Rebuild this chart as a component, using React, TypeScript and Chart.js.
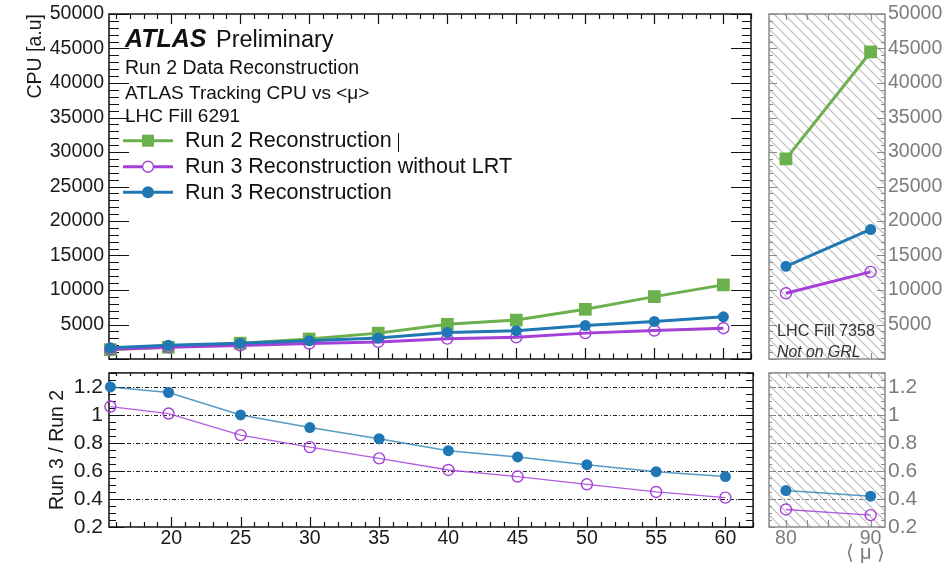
import React, { useEffect, useRef } from 'react';
import { Chart, registerables } from 'chart.js';

Chart.register(...registerables);

const FONT = '"Liberation Sans", Arial, Helvetica, sans-serif';

// ---------------- data ----------------
const mu = [15.6, 19.8, 25, 30, 35, 40, 45, 50, 55, 60];
const run2Cpu = [1350, 1700, 2300, 2900, 3750, 5030, 5640, 7200, 9040, 10740];
const run3CpuNoLrt = [1430, 1720, 1970, 2240, 2480, 2950, 3140, 3750, 4130, 4460];
const run3Cpu = [1620, 1980, 2300, 2660, 3060, 3850, 4080, 4840, 5450, 6120];
const ratioRun3 = [1.2, 1.16, 1.0, 0.91, 0.83, 0.745, 0.7, 0.645, 0.595, 0.56];
const ratioRun3NoLrt = [1.06, 1.01, 0.856, 0.77, 0.69, 0.607, 0.56, 0.505, 0.45, 0.41];

const muHigh = [80, 90];
const run2CpuHigh = [29000, 44500];
const run3CpuNoLrtHigh = [9520, 12630];
const run3CpuHigh = [13430, 18770];
const ratioRun3High = [0.46, 0.42];
const ratioRun3NoLrtHigh = [0.325, 0.285];

const cpuTicks = [5000, 10000, 15000, 20000, 25000, 30000, 35000, 40000, 45000, 50000];
const ratioTicks = [0.2, 0.4, 0.6, 0.8, 1, 1.2];
const ratioGrid = [0.4, 0.6, 0.8, 1, 1.2];
const muTicks = [20, 25, 30, 35, 40, 45, 50, 55, 60];
const muHighTicks = [80, 90];

const GREEN = '#6ab04c';
const PURPLE = '#a43fd8';
const BLUE = '#1f77b4';
const GREY_TXT = '#7c7c7c';
const GREY_FRAME = '#8a8a8a';

// ---------------- helpers ----------------
function range(a: number, b: number, step: number) {
  const out: number[] = [];
  for (let i = 0; a + i * step <= b + 1e-9; i++) out.push(+(a + i * step).toFixed(6));
  return out;
}

function pts(xs: number[], ys: number[]) {
  return xs.map((x, i) => ({ x, y: ys[i] }));
}

function greenSet(xs: number[], ys: number[], lw: number) {
  return {
    label: 'Run 2 Reconstruction',
    data: pts(xs, ys),
    borderColor: GREEN,
    backgroundColor: GREEN,
    borderWidth: lw,
    pointStyle: 'rect',
    pointRadius: 9,
    pointBorderWidth: 0,
    pointBackgroundColor: GREEN,
    clip: false,
    order: 3,
  };
}

function purpleSet(xs: number[], ys: number[], lw: number, lineColor: string) {
  return {
    label: 'Run 3 Reconstruction without LRT',
    data: pts(xs, ys),
    borderColor: lineColor,
    backgroundColor: 'rgba(255,255,255,0)',
    borderWidth: lw,
    pointStyle: 'circle',
    pointRadius: 5.5,
    pointBorderWidth: 1.4,
    pointBorderColor: PURPLE,
    pointBackgroundColor: 'rgba(255,255,255,0)',
    clip: false,
    order: 2,
  };
}

function blueSet(xs: number[], ys: number[], lw: number, lineColor: string) {
  return {
    label: 'Run 3 Reconstruction',
    data: pts(xs, ys),
    borderColor: lineColor,
    backgroundColor: BLUE,
    borderWidth: lw,
    pointStyle: 'circle',
    pointRadius: 5.5,
    pointBorderWidth: 0,
    pointBackgroundColor: BLUE,
    clip: false,
    order: 1,
  };
}

let hatchCanvas: HTMLCanvasElement | null = null;
function hatchPattern(ctx: CanvasRenderingContext2D) {
  if (!hatchCanvas) {
    hatchCanvas = document.createElement('canvas');
    hatchCanvas.width = 10;
    hatchCanvas.height = 10;
    const c = hatchCanvas.getContext('2d')!;
    c.strokeStyle = '#bdbdbd';
    c.lineWidth = 1.2;
    c.beginPath();
    c.moveTo(-1, -1);
    c.lineTo(11, 11);
    c.moveTo(-1, 9);
    c.lineTo(1, 11);
    c.moveTo(9, -1);
    c.lineTo(11, 1);
    c.stroke();
  }
  return ctx.createPattern(hatchCanvas, 'repeat')!;
}

type Side = [number, number];
interface FrameCfg {
  color: string;
  lineWidth: number;
  xMajor: number[];
  xMinor: number[];
  yMajor: number[];
  yMinor: number[];
  top: Side;
  bottom: Side;
  left: Side;
  right: Side;
  hatch?: boolean;
  grid?: { values: number[]; color: string; dash: number[] };
  draw?: (ctx: CanvasRenderingContext2D, chart: any) => void;
}

function framePlugin(cfg: FrameCfg) {
  return {
    id: 'rootFrame',
    beforeDatasetsDraw(chart: any) {
      const { ctx, chartArea: a, scales } = chart;
      const xs = scales.x;
      const ys = scales.y;
      ctx.save();
      if (cfg.hatch) {
        ctx.fillStyle = hatchPattern(ctx);
        ctx.fillRect(a.left, a.top, a.right - a.left, a.bottom - a.top);
      }
      if (cfg.grid) {
        ctx.strokeStyle = cfg.grid.color;
        ctx.lineWidth = 1;
        ctx.setLineDash(cfg.grid.dash);
        for (const v of cfg.grid.values) {
          const y = Math.round(ys.getPixelForValue(v)) + 0.5;
          ctx.beginPath();
          ctx.moveTo(a.left, y);
          ctx.lineTo(a.right, y);
          ctx.stroke();
        }
        ctx.setLineDash([]);
      }
      // ticks
      ctx.strokeStyle = cfg.color;
      ctx.lineWidth = 1.2;
      ctx.beginPath();
      const xTick = (v: number, major: boolean) => {
        const x = Math.round(xs.getPixelForValue(v)) + 0.5;
        if (x < a.left - 0.5 || x > a.right + 0.5) return;
        const lb = major ? cfg.bottom[0] : cfg.bottom[1];
        const lt = major ? cfg.top[0] : cfg.top[1];
        if (lb > 0) {
          ctx.moveTo(x, a.bottom);
          ctx.lineTo(x, a.bottom - lb);
        }
        if (lt > 0) {
          ctx.moveTo(x, a.top);
          ctx.lineTo(x, a.top + lt);
        }
      };
      const yTick = (v: number, major: boolean) => {
        const y = Math.round(ys.getPixelForValue(v)) + 0.5;
        if (y < a.top - 0.5 || y > a.bottom + 0.5) return;
        const ll = major ? cfg.left[0] : cfg.left[1];
        const lr = major ? cfg.right[0] : cfg.right[1];
        if (ll > 0) {
          ctx.moveTo(a.left, y);
          ctx.lineTo(a.left + ll, y);
        }
        if (lr > 0) {
          ctx.moveTo(a.right, y);
          ctx.lineTo(a.right - lr, y);
        }
      };
      cfg.xMinor.forEach((v) => xTick(v, false));
      cfg.xMajor.forEach((v) => xTick(v, true));
      cfg.yMinor.forEach((v) => yTick(v, false));
      cfg.yMajor.forEach((v) => yTick(v, true));
      ctx.stroke();
      // frame
      ctx.lineWidth = cfg.lineWidth;
      ctx.strokeRect(a.left, a.top, a.right - a.left, a.bottom - a.top);
      ctx.restore();
    },
    afterDatasetsDraw(chart: any) {
      if (cfg.draw) {
        chart.ctx.save();
        cfg.draw(chart.ctx, chart);
        chart.ctx.restore();
      }
    },
  };
}

const noGrid = { display: false, drawTicks: false };
const noBorder = { display: false };

function fixedTicks(values: number[]) {
  return (s: any) => {
    s.ticks = values.map((v) => ({ value: v }));
  };
}

function baseOptions(padding: any, scales: any) {
  return {
    responsive: false,
    maintainAspectRatio: false,
    animation: false,
    events: [],
    layout: { padding },
    plugins: { legend: { display: false }, tooltip: { enabled: false }, title: { display: false } },
    elements: { line: { tension: 0 } },
    scales,
  };
}

// ---------------- legend / labels drawing ----------------
function drawTopLeftText(ctx: CanvasRenderingContext2D, chart: any) {
  ctx.fillStyle = '#111';
  ctx.textAlign = 'left';
  ctx.textBaseline = 'alphabetic';
  ctx.font = `italic bold 25px ${FONT}`;
  ctx.fillText('ATLAS', 125, 47);
  ctx.font = `23.5px ${FONT}`;
  ctx.fillText('Preliminary', 216, 47);
  ctx.font = `19.5px ${FONT}`;
  ctx.fillText('Run 2 Data Reconstruction', 125, 74);
  ctx.font = `19px ${FONT}`;
  ctx.fillText('ATLAS Tracking CPU vs <μ>', 125, 99);
  ctx.fillText('LHC Fill 6291', 125, 122);

  const ds = chart.data.datasets;
  const rows = [ds[0], ds[1], ds[2]];
  const ys = [140.7, 166.7, 192.3];
  rows.forEach((d: any, i: number) => {
    const y = ys[i];
    ctx.strokeStyle = d.borderColor;
    ctx.lineWidth = 3;
    ctx.beginPath();
    ctx.moveTo(123, y);
    ctx.lineTo(173, y);
    ctx.stroke();
    if (d.pointStyle === 'rect') {
      ctx.fillStyle = d.pointBackgroundColor;
      ctx.fillRect(148 - 6, y - 6, 12, 12);
    } else if (d.pointBorderWidth > 0) {
      ctx.fillStyle = '#fff';
      ctx.strokeStyle = d.pointBorderColor;
      ctx.lineWidth = 1.4;
      ctx.beginPath();
      ctx.arc(148, y, 5.5, 0, Math.PI * 2);
      ctx.fill();
      ctx.stroke();
    } else {
      ctx.fillStyle = d.pointBackgroundColor;
      ctx.beginPath();
      ctx.arc(148, y, 6, 0, Math.PI * 2);
      ctx.fill();
    }
    ctx.fillStyle = '#111';
    ctx.font = `21.5px ${FONT}`;
    ctx.fillText(d.label, 185, y + 6.5);
  });
  // cursor mark after the first legend entry
  ctx.strokeStyle = '#111';
  ctx.lineWidth = 1;
  ctx.beginPath();
  ctx.moveTo(398.5, 133);
  ctx.lineTo(398.5, 152);
  ctx.stroke();
}

function drawTopRightText(ctx: CanvasRenderingContext2D) {
  ctx.fillStyle = '#333';
  ctx.textAlign = 'left';
  ctx.textBaseline = 'alphabetic';
  ctx.font = `16.2px ${FONT}`;
  ctx.fillText('LHC Fill 7358', 17, 336);
  ctx.font = `italic 15.8px ${FONT}`;
  ctx.fillText('Not on GRL', 17, 357);
}

// ---------------- chart builders ----------------
function buildTopLeft() {
  return {
    type: 'line',
    data: {
      datasets: [greenSet(mu, run2Cpu, 3), purpleSet(mu, run3CpuNoLrt, 3, PURPLE), blueSet(mu, run3Cpu, 3, BLUE)],
    },
    options: baseOptions({ left: 0, top: 14, right: 5, bottom: 2 }, {
      x: { type: 'linear', min: 15.5, max: 62, display: false },
      y: {
        type: 'linear',
        position: 'left',
        min: 0,
        max: 50000,
        afterBuildTicks: fixedTicks(cpuTicks),
        afterFit: (s: any) => {
          s.width = 109;
          s.paddingTop = 0;
          s.paddingBottom = 0;
        },
        ticks: { autoSkip: false, callback: (v: any) => String(v), font: { family: FONT, size: 19.5 }, color: '#1a1a1a', padding: 5 },
        grid: noGrid,
        border: noBorder,
        title: { display: true, text: 'CPU [a.u]', align: 'end', font: { family: FONT, size: 19.5 }, color: '#1a1a1a', padding: { top: 24, bottom: 0 } },
      },
    }),
    plugins: [
      framePlugin({
        color: '#111',
        lineWidth: 1.5,
        xMajor: muTicks,
        xMinor: range(16, 62, 1),
        yMajor: range(0, 50000, 5000),
        yMinor: range(0, 50000, 1000),
        top: [10, 5],
        bottom: [11, 5.5],
        left: [20, 10],
        right: [20, 9],
        draw: drawTopLeftText,
      }),
    ],
  };
}

function buildBottomLeft() {
  return {
    type: 'line',
    data: {
      datasets: [
        purpleSet(mu, ratioRun3NoLrt, 1.3, 'rgba(164,63,216,0.85)'),
        blueSet(mu, ratioRun3, 1.5, 'rgba(31,119,180,0.75)'),
      ],
    },
    options: baseOptions({ left: 0, top: 0, right: 5, bottom: 0 }, {
      x: {
        type: 'linear',
        min: 15.5,
        max: 62,
        afterBuildTicks: fixedTicks(muTicks),
        afterFit: (s: any) => {
          s.height = 36;
          s.paddingLeft = 0;
          s.paddingRight = 0;
        },
        ticks: { autoSkip: false, maxRotation: 0, callback: (v: any) => String(v), font: { family: FONT, size: 19.5 }, color: '#1a1a1a', padding: 0 },
        grid: noGrid,
        border: noBorder,
      },
      y: {
        type: 'linear',
        position: 'left',
        min: 0.2,
        max: 1.3,
        afterBuildTicks: fixedTicks(ratioTicks),
        afterFit: (s: any) => {
          s.width = 109;
          s.paddingTop = 0;
          s.paddingBottom = 0;
        },
        ticks: { autoSkip: false, callback: (v: any) => String(v), font: { family: FONT, size: 21 }, color: '#1a1a1a', padding: 6 },
        grid: noGrid,
        border: noBorder,
        title: { display: true, text: 'Run 3 / Run 2', align: 'center', font: { family: FONT, size: 19.5 }, color: '#1a1a1a', padding: { top: 46, bottom: 0 } },
      },
    }),
    plugins: [
      framePlugin({
        color: '#111',
        lineWidth: 1.5,
        xMajor: muTicks,
        xMinor: range(16, 62, 1),
        yMajor: range(0.2, 1.2, 0.2),
        yMinor: range(0.2, 1.3, 0.05),
        top: [6, 3],
        bottom: [10, 5],
        left: [15, 7],
        right: [15, 7],
        grid: { values: ratioGrid, color: '#222', dash: [4, 2, 1, 2] },
      }),
    ],
  };
}

function buildTopRight() {
  return {
    type: 'line',
    data: {
      datasets: [greenSet(muHigh, run2CpuHigh, 3), purpleSet(muHigh, run3CpuNoLrtHigh, 3, PURPLE), blueSet(muHigh, run3CpuHigh, 3, BLUE)],
    },
    options: baseOptions({ left: 9, top: 14, right: 0, bottom: 2 }, {
      x: { type: 'linear', min: 78, max: 91.7, display: false },
      y: {
        type: 'linear',
        position: 'right',
        min: 0,
        max: 50000,
        afterBuildTicks: fixedTicks(cpuTicks),
        afterFit: (s: any) => {
          s.width = 62;
          s.paddingTop = 0;
          s.paddingBottom = 0;
        },
        ticks: { autoSkip: false, callback: (v: any) => String(v), font: { family: FONT, size: 19.5 }, color: GREY_TXT, padding: 3 },
        grid: noGrid,
        border: noBorder,
      },
    }),
    plugins: [
      framePlugin({
        color: GREY_FRAME,
        lineWidth: 1.5,
        xMajor: range(80, 90, 2.5),
        xMinor: [],
        yMajor: range(0, 50000, 5000),
        yMinor: range(0, 50000, 1000),
        top: [6, 0],
        bottom: [6, 0],
        left: [8, 4],
        right: [8, 4],
        hatch: true,
        draw: drawTopRightText,
      }),
    ],
  };
}

function buildBottomRight() {
  return {
    type: 'line',
    data: {
      datasets: [
        purpleSet(muHigh, ratioRun3NoLrtHigh, 1.3, 'rgba(164,63,216,0.85)'),
        blueSet(muHigh, ratioRun3High, 1.5, 'rgba(31,119,180,0.75)'),
      ],
    },
    options: baseOptions({ left: 9, top: 0, right: 0, bottom: 0 }, {
      x: {
        type: 'linear',
        min: 78,
        max: 91.7,
        afterBuildTicks: fixedTicks(muHighTicks),
        afterFit: (s: any) => {
          s.height = 36;
          s.paddingLeft = 0;
          s.paddingRight = 0;
        },
        ticks: { autoSkip: false, maxRotation: 0, callback: (v: any) => String(v), font: { family: FONT, size: 19.5 }, color: GREY_TXT, padding: 0 },
        grid: noGrid,
        border: noBorder,
        title: { display: true, text: '⟨ μ ⟩', align: 'end', font: { family: FONT, size: 20, lineHeight: 1 }, color: GREY_TXT, padding: { top: 0, bottom: 0 } },
      },
      y: {
        type: 'linear',
        position: 'right',
        min: 0.2,
        max: 1.3,
        afterBuildTicks: fixedTicks(ratioTicks),
        afterFit: (s: any) => {
          s.width = 62;
          s.paddingTop = 0;
          s.paddingBottom = 0;
        },
        ticks: { autoSkip: false, callback: (v: any) => String(v), font: { family: FONT, size: 21 }, color: GREY_TXT, padding: 3 },
        grid: noGrid,
        border: noBorder,
      },
    }),
    plugins: [
      framePlugin({
        color: GREY_FRAME,
        lineWidth: 1.5,
        xMajor: range(80, 90, 2.5),
        xMinor: [],
        yMajor: range(0.2, 1.2, 0.2),
        yMinor: range(0.2, 1.3, 0.05),
        top: [5, 0],
        bottom: [7, 0],
        left: [6, 3],
        right: [7, 4],
        hatch: true,
        grid: { values: ratioGrid, color: '#777', dash: [4, 2, 1, 2] },
      }),
    ],
  };
}

// ---------------- components ----------------
function Panel(props: { left: number; top: number; width: number; height: number; build: () => any }) {
  const ref = useRef<HTMLCanvasElement>(null);
  useEffect(() => {
    const chart = new Chart(ref.current as HTMLCanvasElement, props.build());
    return () => chart.destroy();
  }, []);
  return (
    <canvas
      ref={ref}
      width={props.width}
      height={props.height}
      style={{ position: 'absolute', left: props.left, top: props.top, width: props.width, height: props.height }}
    />
  );
}

export default function App() {
  return (
    <div style={{ position: 'absolute', left: 0, top: 0, width: 947, height: 563, background: '#fff', overflow: 'hidden' }}>
      <Panel left={0} top={0} width={760} height={368} build={buildTopLeft} />
      <Panel left={0} top={366} width={760} height={197} build={buildBottomLeft} />
      <Panel left={760} top={0} width={187} height={368} build={buildTopRight} />
      <Panel left={760} top={366} width={187} height={197} build={buildBottomRight} />
    </div>
  );
}
